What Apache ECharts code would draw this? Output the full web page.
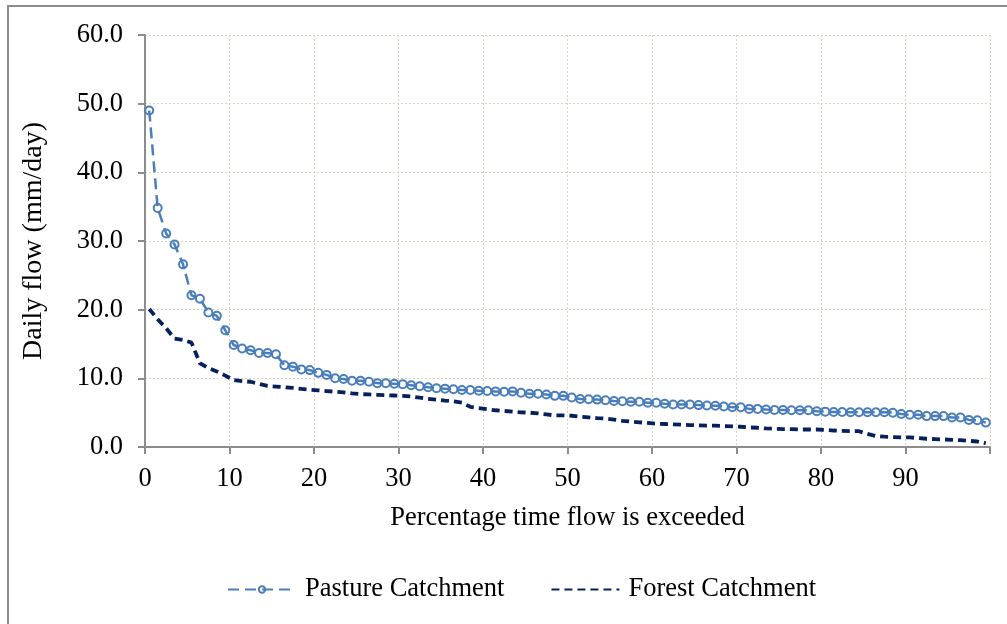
<!DOCTYPE html>
<html>
<head>
<meta charset="utf-8">
<script src="https://cdn.jsdelivr.net/npm/echarts@6/dist/echarts.min.js"></script>
<style>
html,body{margin:0;padding:0;background:#fff;}
#chart{width:1007px;height:624px;}
</style>
</head>
<body>
<div id="chart"></div>
<script>
const pct = [
 0.5, 1.5, 2.5, 3.5, 4.5, 5.5, 6.5, 7.5, 8.5, 9.5,
 10.5, 11.5, 12.5, 13.5, 14.5, 15.5, 16.5, 17.5, 18.5, 19.5,
 20.5, 21.5, 22.5, 23.5, 24.5, 25.5, 26.5, 27.5, 28.5, 29.5,
 30.5, 31.5, 32.5, 33.5, 34.5, 35.5, 36.5, 37.5, 38.5, 39.5,
 40.5, 41.5, 42.5, 43.5, 44.5, 45.5, 46.5, 47.5, 48.5, 49.5,
 50.5, 51.5, 52.5, 53.5, 54.5, 55.5, 56.5, 57.5, 58.5, 59.5,
 60.5, 61.5, 62.5, 63.5, 64.5, 65.5, 66.5, 67.5, 68.5, 69.5,
 70.5, 71.5, 72.5, 73.5, 74.5, 75.5, 76.5, 77.5, 78.5, 79.5,
 80.5, 81.5, 82.5, 83.5, 84.5, 85.5, 86.5, 87.5, 88.5, 89.5,
 90.5, 91.5, 92.5, 93.5, 94.5, 95.5, 96.5, 97.5, 98.5, 99.5
];
const pasture = [
 49.0, 34.8, 31.1, 29.5, 26.6, 22.1, 21.6, 19.6, 19.1, 17.0,
 14.85, 14.35, 14.1, 13.7, 13.7, 13.5, 11.9, 11.7, 11.3, 11.2,
 10.8, 10.5, 10.0, 9.9, 9.65, 9.65, 9.5, 9.3, 9.3, 9.2,
 9.15, 9.0, 8.85, 8.7, 8.55, 8.5, 8.4, 8.3, 8.3, 8.2,
 8.15, 8.1, 8.05, 8.1, 7.9, 7.75, 7.75, 7.65, 7.45, 7.45,
 7.2, 7.0, 6.95, 6.9, 6.8, 6.7, 6.65, 6.6, 6.6, 6.45,
 6.45, 6.3, 6.2, 6.2, 6.2, 6.1, 6.05, 6.0, 5.9, 5.8,
 5.8, 5.55, 5.55, 5.45, 5.4, 5.4, 5.35, 5.35, 5.35, 5.2,
 5.15, 5.1, 5.1, 5.05, 5.05, 5.05, 5.05, 5.05, 5.0, 4.8,
 4.7, 4.7, 4.5, 4.5, 4.5, 4.3, 4.3, 3.95, 3.9, 3.55
];
const forest = [
 20.1, 18.6, 17.3, 15.8, 15.6, 15.2, 12.2, 11.5, 11.0, 10.4,
 9.75, 9.6, 9.5, 9.2, 8.9, 8.8, 8.7, 8.6, 8.45, 8.35,
 8.25, 8.15, 8.05, 7.95, 7.8, 7.7, 7.65, 7.6, 7.55, 7.5,
 7.45, 7.35, 7.2, 7.0, 6.9, 6.75, 6.65, 6.45, 5.85, 5.65,
 5.5, 5.35, 5.25, 5.15, 5.05, 5.0, 4.9, 4.75, 4.6, 4.6,
 4.55, 4.4, 4.3, 4.2, 4.15, 4.0, 3.8, 3.7, 3.6, 3.5,
 3.4, 3.35, 3.3, 3.25, 3.2, 3.15, 3.1, 3.1, 3.05, 3.0,
 2.95, 2.85, 2.8, 2.7, 2.65, 2.6, 2.6, 2.55, 2.55, 2.55,
 2.5, 2.4, 2.35, 2.3, 2.3, 1.9, 1.6, 1.5, 1.45, 1.4,
 1.4, 1.3, 1.2, 1.15, 1.1, 1.05, 1.0, 0.9, 0.8, 0.55
];
const seriesNames = ['Pasture Catchment', 'Forest Catchment'];
const xTitle = 'Percentage time flow is exceeded';
const yTitle = 'Daily flow (mm/day)';

const FONT = '"Liberation Serif", "Times New Roman", serif';
const chart = echarts.init(document.getElementById('chart'), null, {renderer: 'canvas'});
const gridLine = {show: true, lineStyle: {color: '#DAD6BE', type: [2, 2], width: 1}};
const axisLine = {show: true, lineStyle: {color: '#8C8C8C', width: 2}};

chart.setOption({
  animation: false,
  backgroundColor: '#fff',
  textStyle: {fontFamily: FONT},
  graphic: [{
    type: 'rect', silent: true, z: -10,
    shape: {x: 8, y: 6, width: 1020, height: 640},
    style: {fill: 'none', stroke: '#8C8C8C', lineWidth: 2}
  }],
  grid: {left: 145, right: 17, top: 35, bottom: 177, containLabel: false},
  legend: {
    left: 222, top: 571,
    itemWidth: 68, itemHeight: 8, itemGap: 46,
    textStyle: {fontFamily: FONT, fontSize: 26.5, color: '#000', padding: [0, 0, 0, 4]},
    data: [
      {name: seriesNames[0]},
      {name: seriesNames[1], itemStyle: {opacity: 0}}
    ]
  },
  xAxis: {
    type: 'value', min: 0, max: 100, interval: 10,
    name: xTitle, nameLocation: 'middle', nameGap: 58, nameMoveOverlap: false,
    nameTextStyle: {fontFamily: FONT, fontSize: 26.5, color: '#000'},
    axisLine: axisLine,
    axisTick: {show: true, length: 7, lineStyle: {color: '#8C8C8C', width: 2}},
    axisLabel: {fontFamily: FONT, fontSize: 26.5, color: '#000', margin: 19,
      formatter: v => (v >= 100 ? '' : String(v))},
    splitLine: gridLine
  },
  yAxis: {
    type: 'value', min: 0, max: 60, interval: 10,
    name: yTitle, nameLocation: 'middle', nameGap: 97, nameRotate: 90, nameMoveOverlap: false,
    nameTextStyle: {fontFamily: FONT, fontSize: 28, color: '#000'},
    axisLine: axisLine,
    axisTick: {show: true, length: 7, lineStyle: {color: '#8C8C8C', width: 2}},
    axisLabel: {fontFamily: FONT, fontSize: 26.5, color: '#000', margin: 22,
      padding: [6, 0, 0, 0],
      formatter: v => v.toFixed(1)},
    splitLine: gridLine
  },
  series: [
    {
      name: seriesNames[0], type: 'line',
      data: pct.map((p, i) => [p, pasture[i]]),
      symbol: 'circle', symbolSize: 8, showSymbol: true,
      lineStyle: {color: '#4A7EBB', width: 2.5, type: [11, 6]},
      itemStyle: {color: 'rgba(255,255,255,0)', borderColor: '#4A7EBB', borderWidth: 2},
      z: 3
    },
    {
      name: seriesNames[1], type: 'line',
      data: pct.map((p, i) => [p, forest[i]]),
      symbol: 'none', showSymbol: false,
      lineStyle: {color: '#06205E', width: 3.8, type: [8, 5]},
      itemStyle: {color: '#06205E'},
      z: 2
    }
  ]
});
</script>
</body>
</html>
